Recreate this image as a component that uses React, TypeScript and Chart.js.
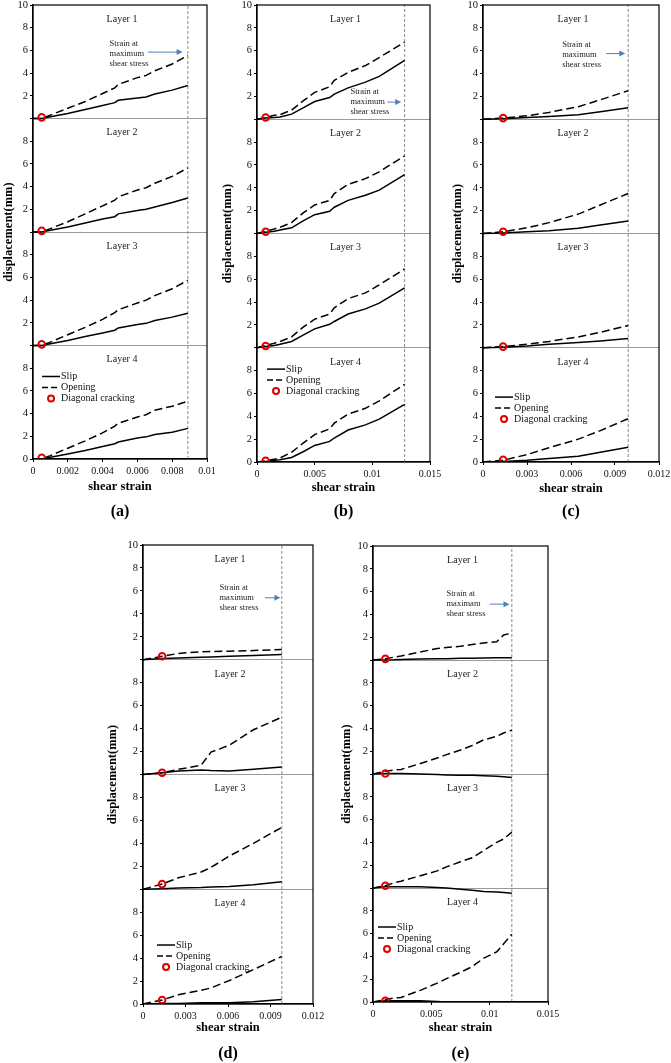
import React, { useEffect, useRef } from 'react';
import { Chart, registerables } from 'chart.js';
Chart.register(...registerables);

const FONT = '"Liberation Serif", "Times New Roman", serif';

// ---------- shared labels ----------
const layerNames = ['Layer 1', 'Layer 2', 'Layer 3', 'Layer 4'];
const legendLabels = ['Slip', 'Opening', 'Diagonal cracking'];
const noteText = ['Strain at', 'maximum', 'shear stress'];
const noteTextE = ['Strain at', 'maximam', 'shear stress'];
const yTitle = 'displacement(mm)';
const xTitle = 'shear strain';
const yTickValues = [0, 2, 4, 6, 8, 10, 12, 14, 16, 18, 20, 22, 24, 26, 28, 30, 32, 34, 36, 38, 40];
const yTickLabels = ['0', '2', '4', '6', '8', '', '2', '4', '6', '8', '', '2', '4', '6', '8', '', '2', '4', '6', '8', '10'];

// ---------- panel (a) ----------
const strainA = [0, 0.0005, 0.001, 0.002, 0.003, 0.004, 0.0047, 0.0049, 0.006, 0.0065, 0.007, 0.008, 0.0089];
const slipA1 = [0, 0, 0.15, 0.45, 0.8, 1.15, 1.4, 1.6, 1.8, 1.9, 2.15, 2.5, 2.9];
const openA1 = [0, 0, 0.3, 0.9, 1.5, 2.2, 2.7, 3.0, 3.6, 3.8, 4.2, 4.8, 5.55];
const slipA2 = [0, 0, 0.15, 0.45, 0.8, 1.15, 1.35, 1.6, 1.9, 2.0, 2.2, 2.6, 3.0];
const openA2 = [0, 0, 0.3, 0.9, 1.6, 2.3, 2.8, 3.1, 3.7, 3.9, 4.3, 4.9, 5.65];
const slipA3 = [0, 0, 0.15, 0.45, 0.8, 1.1, 1.35, 1.55, 1.85, 1.95, 2.2, 2.5, 2.85];
const openA3 = [0, 0, 0.3, 0.95, 1.6, 2.3, 2.9, 3.15, 3.75, 4.0, 4.4, 5.0, 5.75];
const slipA4 = [0, 0, 0.15, 0.45, 0.75, 1.1, 1.35, 1.5, 1.85, 1.95, 2.15, 2.35, 2.7];
const openA4 = [0, 0, 0.3, 0.95, 1.6, 2.3, 2.9, 3.15, 3.7, 3.9, 4.3, 4.65, 5.1];
const crackStrainA = 0.0005;
const crackA = [0.1, 0.1, 0.1, 0.1];
const maxStrainA = 0.0089;
const xTicksA = [0, 0.002, 0.004, 0.006, 0.008, 0.01];
const xLabelsA = ['0', '0.002', '0.004', '0.006', '0.008', '0.01'];

// ---------- panel (b) ----------
const strainB = [0, 0.00075, 0.0015, 0.002, 0.003, 0.004, 0.005, 0.0063, 0.0067, 0.0079, 0.0094, 0.0106, 0.0128];
const slipB1 = [0, 0.1, 0.15, 0.2, 0.45, 1.0, 1.55, 1.9, 2.2, 2.75, 3.25, 3.75, 5.15];
const openB1 = [0, 0.15, 0.35, 0.4, 0.8, 1.6, 2.35, 2.85, 3.4, 4.1, 4.7, 5.4, 6.75];
const slipB2 = [0, 0.1, 0.2, 0.3, 0.5, 1.1, 1.65, 1.95, 2.3, 2.9, 3.35, 3.8, 5.15];
const openB2 = [0, 0.2, 0.4, 0.55, 0.95, 1.8, 2.5, 2.9, 3.5, 4.3, 4.8, 5.4, 6.8];
const slipB3 = [0, 0.1, 0.2, 0.3, 0.55, 1.1, 1.65, 2.05, 2.3, 2.95, 3.4, 3.9, 5.25];
const openB3 = [0, 0.2, 0.4, 0.55, 0.95, 1.8, 2.5, 2.95, 3.5, 4.3, 4.8, 5.5, 6.9];
const slipB4 = [0, 0.05, 0.15, 0.2, 0.4, 0.9, 1.45, 1.8, 2.1, 2.8, 3.25, 3.75, 5.05];
const openB4 = [0, 0.1, 0.25, 0.35, 0.85, 1.65, 2.4, 2.9, 3.4, 4.2, 4.7, 5.35, 6.8];
const crackStrainB = 0.00075;
const crackB = [0.15, 0.15, 0.15, 0.1];
const maxStrainB = 0.0128;
const xTicksB = [0, 0.005, 0.01, 0.015];
const xLabelsB = ['0', '0.005', '0.01', '0.015'];

// ---------- panel (c) ----------
const strainC = [0, 0.00137, 0.003, 0.0045, 0.0065, 0.008, 0.0099];
const slipC1 = [0, 0.05, 0.15, 0.25, 0.4, 0.65, 1.0];
const openC1 = [0, 0.1, 0.3, 0.6, 1.1, 1.7, 2.5];
const slipC2 = [0, 0.05, 0.15, 0.25, 0.45, 0.75, 1.1];
const openC2 = [0, 0.15, 0.5, 0.95, 1.7, 2.5, 3.5];
const slipC3 = [0, 0.05, 0.15, 0.3, 0.45, 0.6, 0.8];
const openC3 = [0, 0.1, 0.3, 0.55, 0.95, 1.35, 1.95];
const slipC4 = [0, 0.05, 0.15, 0.3, 0.5, 0.85, 1.3];
const openC4 = [0, 0.15, 0.65, 1.25, 2.0, 2.75, 3.8];
const crackStrainC = 0.00137;
const crackC = [0.1, 0.15, 0.1, 0.2];
const maxStrainC = 0.0099;
const xTicksC = [0, 0.003, 0.006, 0.009, 0.012];
const xLabelsC = ['0', '0.003', '0.006', '0.009', '0.012'];

// ---------- panel (d) ----------
const strainD = [0, 0.00135, 0.0025, 0.0041, 0.0048, 0.0061, 0.0078, 0.0098];
const slipD1 = [0, 0.1, 0.15, 0.22, 0.25, 0.3, 0.38, 0.45];
const openD1 = [0, 0.3, 0.55, 0.7, 0.72, 0.75, 0.8, 0.9];
const slipD2 = [0, 0.15, 0.3, 0.4, 0.35, 0.3, 0.45, 0.65];
const openD2 = [0, 0.15, 0.45, 0.8, 1.95, 2.55, 3.9, 5.0];
const slipD3 = [0, 0.05, 0.1, 0.15, 0.2, 0.25, 0.4, 0.65];
const openD3 = [0, 0.45, 1.0, 1.5, 1.9, 2.9, 4.0, 5.4];
const slipD4 = [0, 0.05, 0.05, 0.1, 0.1, 0.1, 0.2, 0.4];
const openD4 = [0, 0.35, 0.8, 1.2, 1.4, 2.05, 3.0, 4.15];
const crackStrainD = 0.00135;
const crackD = [0.3, 0.15, 0.45, 0.35];
const maxStrainD = 0.0098;
const xTicksD = [0, 0.003, 0.006, 0.009, 0.012];
const xLabelsD = ['0', '0.003', '0.006', '0.009', '0.012'];

// ---------- panel (e) ----------
const strainE = [0, 0.00106, 0.0018, 0.0024, 0.004, 0.0055, 0.0063, 0.0075, 0.0085, 0.0095, 0.0106, 0.0112, 0.0119];
const slipE1 = [0, 0, 0.02, 0.05, 0.08, 0.1, 0.12, 0.15, 0.16, 0.18, 0.2, 0.2, 0.2];
const openE1 = [0, 0.1, 0.25, 0.35, 0.7, 1.0, 1.1, 1.2, 1.35, 1.5, 1.6, 2.2, 2.35];
const slipE2 = [0, 0.05, 0.05, 0.05, 0.0, -0.05, -0.08, -0.1, -0.12, -0.15, -0.2, -0.25, -0.3];
const openE2 = [0, 0.25, 0.35, 0.4, 0.9, 1.4, 1.7, 2.1, 2.5, 3.0, 3.3, 3.6, 3.85];
const slipE3 = [0, 0.1, 0.1, 0.1, 0.1, 0.05, 0.0, -0.1, -0.2, -0.3, -0.35, -0.4, -0.45];
const openE3 = [0, 0.2, 0.45, 0.6, 1.05, 1.5, 1.85, 2.3, 2.65, 3.3, 4.0, 4.3, 4.9];
const slipE4 = [0, 0.1, 0.1, 0.1, 0.1, 0.05, 0.0, 0.0, 0.0, 0.0, 0.0, 0.0, 0.0];
const openE4 = [0, 0.2, 0.35, 0.4, 1.0, 1.65, 2.05, 2.6, 3.1, 3.85, 4.4, 5.1, 5.95];
const crackStrainE = 0.00106;
const crackE = [0.1, 0.05, 0.2, 0.1];
const maxStrainE = 0.0119;
const xTicksE = [0, 0.005, 0.01, 0.015];
const xLabelsE = ['0', '0.005', '0.01', '0.015'];

// ---------- panel layout (pixels / positions) ----------
const PANELS = [
  {
    key: 'a', caption: '(a)', L: 33, R: 207, T: 5, B: 459, yTitleX: 8, xTitleY: 487, captionY: 512,
    xMax: 0.01, strain: strainA, slip: [slipA1, slipA2, slipA3, slipA4], open: [openA1, openA2, openA3, openA4],
    crackStrain: crackStrainA, crack: crackA, maxStrain: maxStrainA, xTicks: xTicksA, xLabels: xLabelsA,
    note: noteText, noteX: 0.0044, noteY: 6.55, arrowX0: 0.0066, arrowX1: 0.0086, arrowY: 5.85,
    legendX: 0.00052, legendY: 7.27,
  },
  {
    key: 'b', caption: '(b)', L: 257, R: 430, T: 5, B: 462, yTitleX: 227, xTitleY: 488, captionY: 512,
    xMax: 0.015, strain: strainB, slip: [slipB1, slipB2, slipB3, slipB4], open: [openB1, openB2, openB3, openB4],
    crackStrain: crackStrainB, crack: crackB, maxStrain: maxStrainB, xTicks: xTicksB, xLabels: xLabelsB,
    note: noteText, noteX: 0.0081, noteY: 2.4, arrowX0: 0.0113, arrowX1: 0.0125, arrowY: 1.5,
    legendX: 0.00087, legendY: 8.13,
  },
  {
    key: 'c', caption: '(c)', L: 483, R: 659, T: 5, B: 462, yTitleX: 457, xTitleY: 489, captionY: 512,
    xMax: 0.012, strain: strainC, slip: [slipC1, slipC2, slipC3, slipC4], open: [openC1, openC2, openC3, openC4],
    crackStrain: crackStrainC, crack: crackC, maxStrain: maxStrainC, xTicks: xTicksC, xLabels: xLabelsC,
    note: noteText, noteX: 0.0054, noteY: 6.55, arrowX0: 0.0084, arrowX1: 0.0097, arrowY: 5.75,
    legendX: 0.00082, legendY: 5.68,
  },
  {
    key: 'd', caption: '(d)', L: 143, R: 313, T: 545, B: 1004, yTitleX: 112, xTitleY: 1028, captionY: 1054,
    xMax: 0.012, strain: strainD, slip: [slipD1, slipD2, slipD3, slipD4], open: [openD1, openD2, openD3, openD4],
    crackStrain: crackStrainD, crack: crackD, maxStrain: maxStrainD, xTicks: xTicksD, xLabels: xLabelsD,
    note: noteText, noteX: 0.0054, noteY: 6.26, arrowX0: 0.0086, arrowX1: 0.0097, arrowY: 5.4,
    legendX: 0.00099, legendY: 5.14,
  },
  {
    key: 'e', caption: '(e)', L: 373, R: 548, T: 546, B: 1002, yTitleX: 346, xTitleY: 1028, captionY: 1054,
    xMax: 0.015, strain: strainE, slip: [slipE1, slipE2, slipE3, slipE4], open: [openE1, openE2, openE3, openE4],
    crackStrain: crackStrainE, crack: crackE, maxStrain: maxStrainE, xTicks: xTicksE, xLabels: xLabelsE,
    note: noteTextE, noteX: 0.0063, noteY: 5.8, arrowX0: 0.0100, arrowX1: 0.0117, arrowY: 4.9,
    legendX: 0.00043, legendY: 6.58,
  },
];

const TITLE_LH = 15; // 12.5px * 1.2

function geometry(p: any) {
  const cl = Math.round(p.yTitleX - TITLE_LH / 2);
  const ct = p.T - 10;
  const cr = p.R + 20;
  const cb = p.captionY + 14;
  const yAxisW = p.L - cl;
  const xAxisH = p.xTitleY - p.B + TITLE_LH / 2;
  return {
    cl, ct, cw: cr - cl, ch: cb - ct, yAxisW, xAxisH,
    pad: { left: 0, top: 10, right: 20, bottom: cb - (p.B + xAxisH) },
  };
}

function makeDecor(p: any, g: any) {
  return {
    id: 'decor' + p.key,
    afterDatasetsDraw(chart: any) {
      const { ctx, chartArea: a } = chart;
      const xs = chart.scales.x;
      const ys = chart.scales.y;
      ctx.save();
      // frame
      ctx.strokeStyle = '#000';
      ctx.lineWidth = 1.2;
      ctx.strokeRect(a.left, a.top, a.right - a.left, a.bottom - a.top);
      // layer names
      ctx.fillStyle = '#222';
      ctx.font = `10px ${FONT}`;
      ctx.textAlign = 'center';
      ctx.textBaseline = 'middle';
      const cx = (a.left + a.right) / 2;
      layerNames.forEach((n, i) => {
        const base = (3 - i) * 10;
        ctx.fillText(n, cx + 2, ys.getPixelForValue(base + 8.75));
      });
      // note in layer 1
      ctx.font = `8.5px ${FONT}`;
      ctx.textAlign = 'left';
      const ny = ys.getPixelForValue(30 + p.noteY);
      const nx = xs.getPixelForValue(p.noteX);
      p.note.forEach((t: string, i: number) => ctx.fillText(t, nx, ny + i * 10));
      // arrow
      const ax0 = xs.getPixelForValue(p.arrowX0);
      const ax1 = xs.getPixelForValue(p.arrowX1);
      const ay = ys.getPixelForValue(30 + p.arrowY);
      ctx.strokeStyle = '#4f81bd';
      ctx.fillStyle = '#4f81bd';
      ctx.lineWidth = 1;
      ctx.beginPath();
      ctx.moveTo(ax0, ay);
      ctx.lineTo(ax1 - 4, ay);
      ctx.stroke();
      ctx.beginPath();
      ctx.moveTo(ax1, ay);
      ctx.lineTo(ax1 - 6, ay - 3);
      ctx.lineTo(ax1 - 6, ay + 3);
      ctx.closePath();
      ctx.fill();
      // legend in layer 4
      const lx = xs.getPixelForValue(p.legendX);
      const ly = ys.getPixelForValue(p.legendY);
      ctx.strokeStyle = '#000';
      ctx.lineWidth = 1.5;
      ctx.beginPath();
      ctx.moveTo(lx, ly);
      ctx.lineTo(lx + 18, ly);
      ctx.stroke();
      ctx.setLineDash([6, 3]);
      ctx.beginPath();
      ctx.moveTo(lx, ly + 11);
      ctx.lineTo(lx + 18, ly + 11);
      ctx.stroke();
      ctx.setLineDash([]);
      ctx.strokeStyle = '#e00000';
      ctx.lineWidth = 2;
      ctx.beginPath();
      ctx.arc(lx + 9, ly + 22, 3, 0, Math.PI * 2);
      ctx.stroke();
      ctx.fillStyle = '#111';
      ctx.font = `10px ${FONT}`;
      ctx.textAlign = 'left';
      ctx.fillText(legendLabels[0], lx + 19, ly);
      ctx.fillText(legendLabels[1], lx + 19, ly + 11);
      ctx.fillText(legendLabels[2], lx + 19, ly + 22);
      // caption
      ctx.fillStyle = '#000';
      ctx.font = `bold 16px ${FONT}`;
      ctx.textAlign = 'center';
      ctx.fillText(p.caption, cx, p.captionY - g.ct);
      ctx.restore();
    },
  };
}

function buildConfig(p: any, g: any) {
  const datasets: any[] = [];
  datasets.push({
    label: 'Diagonal cracking',
    data: p.crack.map((v: number, i: number) => ({ x: p.crackStrain, y: (3 - i) * 10 + v })),
    showLine: false,
    pointRadius: 3.3,
    pointBorderWidth: 2,
    pointBorderColor: '#e00000',
    pointBackgroundColor: 'rgba(255,255,255,0)',
  });
  for (let i = 0; i < 4; i++) {
    const base = (3 - i) * 10;
    datasets.push({
      label: 'Slip',
      data: p.strain.map((x: number, j: number) => ({ x, y: base + p.slip[i][j] })),
      showLine: true, borderColor: '#000', borderWidth: 1.5, pointRadius: 0,
    });
    datasets.push({
      label: 'Opening',
      data: p.strain.map((x: number, j: number) => ({ x, y: base + p.open[i][j] })),
      showLine: true, borderColor: '#000', borderWidth: 1.5, borderDash: [8, 4], pointRadius: 0,
    });
  }
  datasets.push({
    label: 'Strain at maximum shear stress',
    data: [{ x: p.maxStrain, y: 0 }, { x: p.maxStrain, y: 40 }],
    showLine: true, borderColor: '#888', borderWidth: 1, borderDash: [3, 2], pointRadius: 0,
  });

  return {
    type: 'scatter',
    data: { datasets },
    options: {
      responsive: false,
      animation: false,
      layout: { padding: g.pad },
      plugins: { legend: { display: false }, tooltip: { enabled: false }, title: { display: false } },
      scales: {
        x: {
          type: 'linear', min: 0, max: p.xMax,
          afterBuildTicks: (s: any) => { s.ticks = p.xTicks.map((v: number) => ({ value: v })); },
          afterFit: (s: any) => { s.height = g.xAxisH; s.paddingLeft = 0; s.paddingRight = 0; },
          ticks: {
            autoSkip: false, maxRotation: 0, padding: 3, color: '#111',
            font: { family: FONT, size: 10 },
            callback: (_v: any, i: number) => p.xLabels[i],
          },
          grid: { drawOnChartArea: false, drawTicks: true, tickLength: 3, color: '#000' },
          border: { color: '#000', width: 1.2 },
          title: { display: true, text: xTitle, color: '#000', padding: 0, font: { family: FONT, size: 12.5, weight: 'bold' } },
        },
        y: {
          type: 'linear', min: 0, max: 40,
          afterBuildTicks: (s: any) => { s.ticks = yTickValues.map((v) => ({ value: v })); },
          afterFit: (s: any) => { s.width = g.yAxisW; s.paddingTop = 0; s.paddingBottom = 0; },
          ticks: {
            autoSkip: false, padding: 2, color: '#111',
            font: { family: FONT, size: 10.5 },
            callback: (_v: any, i: number) => yTickLabels[i],
          },
          grid: {
            drawTicks: true, tickLength: 3, tickColor: '#000', lineWidth: 1,
            color: (c: any) => {
              const v = c.tick ? c.tick.value : 0;
              return v % 10 === 0 && v > 0 && v < 40 ? '#9a9a9a' : 'rgba(0,0,0,0)';
            },
          },
          border: { color: '#000', width: 1.3 },
          title: { display: true, text: yTitle, color: '#000', padding: 0, font: { family: FONT, size: 12.5, weight: 'bold' } },
        },
      },
    },
    plugins: [makeDecor(p, g)],
  };
}

function Panel({ p }: { p: any }) {
  const ref = useRef<HTMLCanvasElement>(null);
  const g = geometry(p);
  useEffect(() => {
    const chart = new Chart(ref.current as HTMLCanvasElement, buildConfig(p, g) as any);
    return () => chart.destroy();
  }, []);
  return (
    <canvas
      ref={ref}
      width={g.cw}
      height={g.ch}
      style={{ position: 'absolute', left: g.cl, top: g.ct, width: g.cw, height: g.ch }}
    />
  );
}

export default function App() {
  return (
    <div style={{ position: 'absolute', left: 0, top: 0, width: 671, height: 1063, background: '#fff', overflow: 'hidden' }}>
      {PANELS.map((p) => (
        <Panel key={p.key} p={p} />
      ))}
    </div>
  );
}
